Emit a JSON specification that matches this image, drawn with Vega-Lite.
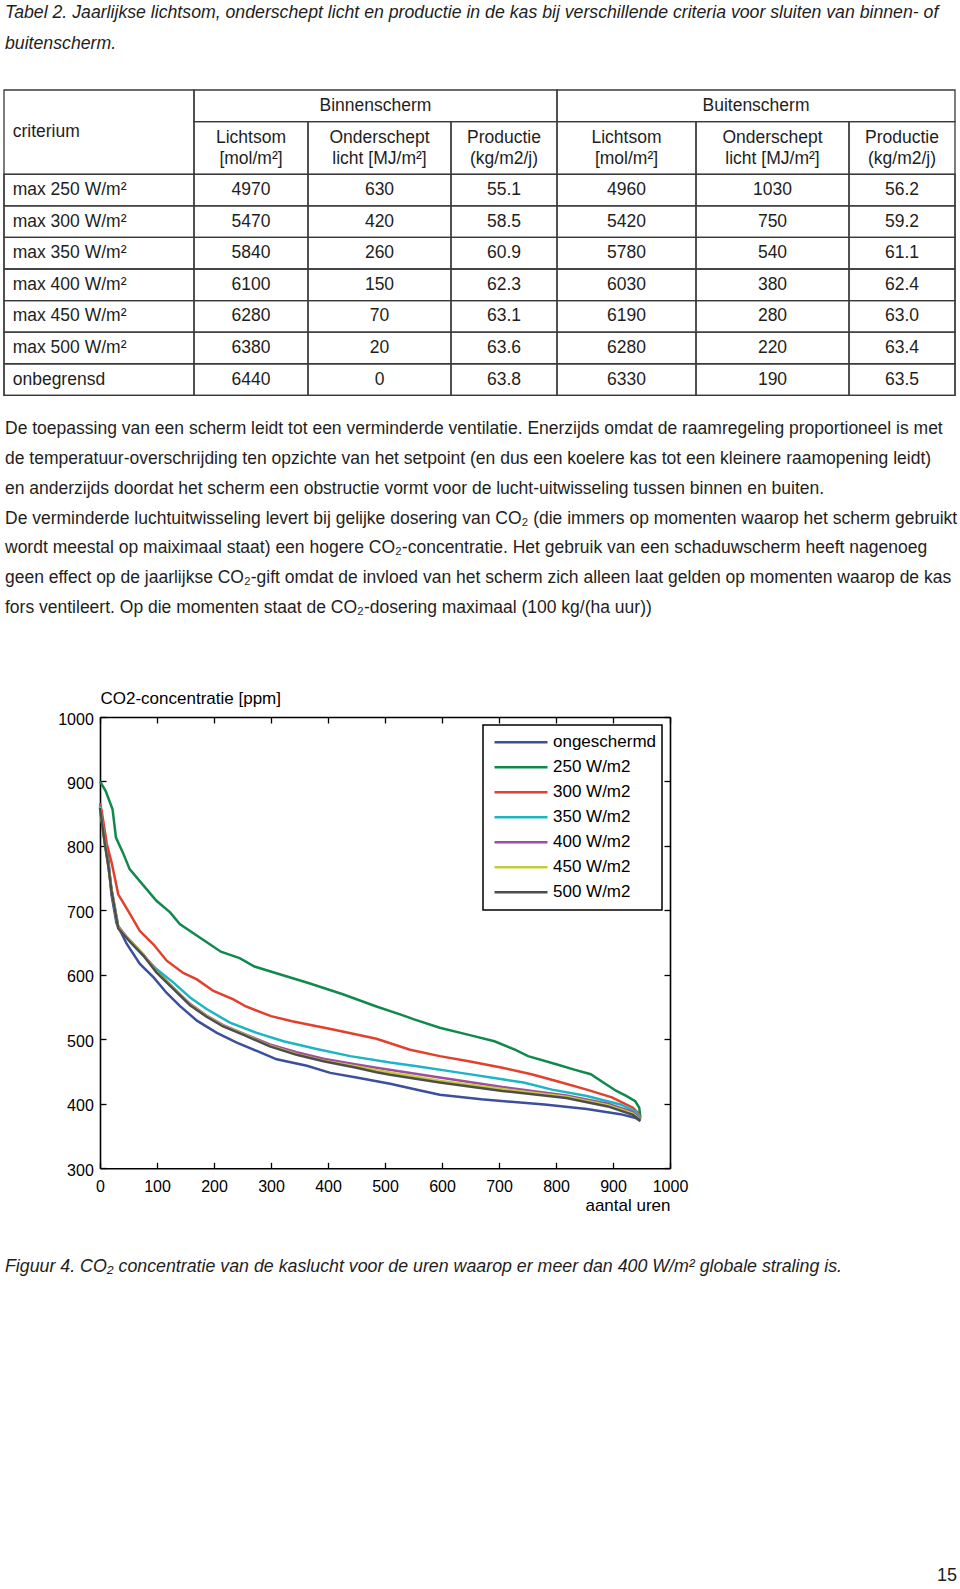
{
  "$schema": "https://vega.github.io/schema/vega-lite/v6.json",
  "padding": 0,
  "background": "white",
  "config": {"view": {"stroke": null}, "legend": {"strokeWidth": 1.5}},
  "spacing": 0,
  "bounds": "flush",
  "resolve": {"legend": {"color": "independent"}, "scale": {"color": "independent"}},
  "datasets": {
    "tbl": [
      {"r": 3, "crit": "max 250 W/m²", "bl": 4970, "bo": 630, "bp": 55.1, "ul": 4960, "uo": 1030, "up": 56.2},
      {"r": 4, "crit": "max 300 W/m²", "bl": 5470, "bo": 420, "bp": 58.5, "ul": 5420, "uo": 750, "up": 59.2},
      {"r": 5, "crit": "max 350 W/m²", "bl": 5840, "bo": 260, "bp": 60.9, "ul": 5780, "uo": 540, "up": 61.1},
      {"r": 6, "crit": "max 400 W/m²", "bl": 6100, "bo": 150, "bp": 62.3, "ul": 6030, "uo": 380, "up": 62.4},
      {"r": 7, "crit": "max 450 W/m²", "bl": 6280, "bo": 70, "bp": 63.1, "ul": 6190, "uo": 280, "up": 63.0},
      {"r": 8, "crit": "max 500 W/m²", "bl": 6380, "bo": 20, "bp": 63.6, "ul": 6280, "uo": 220, "up": 63.4},
      {"r": 9, "crit": "onbegrensd", "bl": 6440, "bo": 0, "bp": 63.8, "ul": 6330, "uo": 190, "up": 63.5}
    ],
    "hdr": [
      {"c": 2, "t": "Lichtsom\n[mol/m²]"},
      {"c": 3, "t": "Onderschept\nlicht [MJ/m²]"},
      {"c": 4, "t": "Productie\n(kg/m2/j)"},
      {"c": 5, "t": "Lichtsom\n[mol/m²]"},
      {"c": 6, "t": "Onderschept\nlicht [MJ/m²]"},
      {"c": 7, "t": "Productie\n(kg/m2/j)"}
    ],
    "cells": [
      {"c0": 0.5, "c1": 1.5, "r0": 0.5, "r1": 2.5},
      {"c0": 1.5, "c1": 4.5, "r0": 0.5, "r1": 1.5},
      {"c0": 4.5, "c1": 7.5, "r0": 0.5, "r1": 1.5},
      {"c0": 1.5, "c1": 2.5, "r0": 1.5, "r1": 2.5},
      {"c0": 2.5, "c1": 3.5, "r0": 1.5, "r1": 2.5},
      {"c0": 3.5, "c1": 4.5, "r0": 1.5, "r1": 2.5},
      {"c0": 4.5, "c1": 5.5, "r0": 1.5, "r1": 2.5},
      {"c0": 5.5, "c1": 6.5, "r0": 1.5, "r1": 2.5},
      {"c0": 6.5, "c1": 7.5, "r0": 1.5, "r1": 2.5},
      {"c0": 0.5, "c1": 7.5, "r0": 2.5, "r1": 3.5},
      {"c0": 0.5, "c1": 7.5, "r0": 3.5, "r1": 4.5},
      {"c0": 0.5, "c1": 7.5, "r0": 4.5, "r1": 5.5},
      {"c0": 0.5, "c1": 7.5, "r0": 5.5, "r1": 6.5},
      {"c0": 0.5, "c1": 7.5, "r0": 6.5, "r1": 7.5},
      {"c0": 0.5, "c1": 7.5, "r0": 7.5, "r1": 8.5},
      {"c0": 0.5, "c1": 7.5, "r0": 8.5, "r1": 9.5},
      {"c0": 0.5, "c1": 1.5, "r0": 2.5, "r1": 9.5},
      {"c0": 1.5, "c1": 2.5, "r0": 2.5, "r1": 9.5},
      {"c0": 2.5, "c1": 3.5, "r0": 2.5, "r1": 9.5},
      {"c0": 3.5, "c1": 4.5, "r0": 2.5, "r1": 9.5},
      {"c0": 4.5, "c1": 5.5, "r0": 2.5, "r1": 9.5},
      {"c0": 5.5, "c1": 6.5, "r0": 2.5, "r1": 9.5},
      {"c0": 6.5, "c1": 7.5, "r0": 2.5, "r1": 9.5}
    ],
    "co2": [
      {"s": "ongeschermd", "x": 0, "y": 862}, {"s": "ongeschermd", "x": 6, "y": 828}, {"s": "ongeschermd", "x": 15, "y": 777}, {"s": "ongeschermd", "x": 20, "y": 725}, {"s": "ongeschermd", "x": 29, "y": 680}, {"s": "ongeschermd", "x": 47, "y": 648}, {"s": "ongeschermd", "x": 70, "y": 617}, {"s": "ongeschermd", "x": 94, "y": 596}, {"s": "ongeschermd", "x": 117, "y": 572}, {"s": "ongeschermd", "x": 140, "y": 552}, {"s": "ongeschermd", "x": 170, "y": 529}, {"s": "ongeschermd", "x": 205, "y": 510}, {"s": "ongeschermd", "x": 240, "y": 495}, {"s": "ongeschermd", "x": 275, "y": 482}, {"s": "ongeschermd", "x": 310, "y": 469}, {"s": "ongeschermd", "x": 363, "y": 459}, {"s": "ongeschermd", "x": 404, "y": 448}, {"s": "ongeschermd", "x": 450, "y": 441}, {"s": "ongeschermd", "x": 509, "y": 431}, {"s": "ongeschermd", "x": 560, "y": 421}, {"s": "ongeschermd", "x": 596, "y": 414}, {"s": "ongeschermd", "x": 669, "y": 407}, {"s": "ongeschermd", "x": 780, "y": 399}, {"s": "ongeschermd", "x": 854, "y": 392}, {"s": "ongeschermd", "x": 913, "y": 384}, {"s": "ongeschermd", "x": 940, "y": 378}, {"s": "ongeschermd", "x": 948, "y": 373},
      {"s": "250 W/m2", "x": 0, "y": 900}, {"s": "250 W/m2", "x": 10, "y": 885}, {"s": "250 W/m2", "x": 22, "y": 857}, {"s": "250 W/m2", "x": 28, "y": 813}, {"s": "250 W/m2", "x": 40, "y": 790}, {"s": "250 W/m2", "x": 52, "y": 764}, {"s": "250 W/m2", "x": 75, "y": 740}, {"s": "250 W/m2", "x": 99, "y": 715}, {"s": "250 W/m2", "x": 123, "y": 697}, {"s": "250 W/m2", "x": 140, "y": 679}, {"s": "250 W/m2", "x": 158, "y": 668}, {"s": "250 W/m2", "x": 190, "y": 649}, {"s": "250 W/m2", "x": 212, "y": 636}, {"s": "250 W/m2", "x": 245, "y": 626}, {"s": "250 W/m2", "x": 271, "y": 613}, {"s": "250 W/m2", "x": 308, "y": 603}, {"s": "250 W/m2", "x": 367, "y": 587}, {"s": "250 W/m2", "x": 426, "y": 570}, {"s": "250 W/m2", "x": 485, "y": 551}, {"s": "250 W/m2", "x": 529, "y": 538}, {"s": "250 W/m2", "x": 551, "y": 531}, {"s": "250 W/m2", "x": 596, "y": 518}, {"s": "250 W/m2", "x": 647, "y": 507}, {"s": "250 W/m2", "x": 692, "y": 497}, {"s": "250 W/m2", "x": 728, "y": 484}, {"s": "250 W/m2", "x": 751, "y": 474}, {"s": "250 W/m2", "x": 802, "y": 461}, {"s": "250 W/m2", "x": 832, "y": 453}, {"s": "250 W/m2", "x": 861, "y": 446}, {"s": "250 W/m2", "x": 883, "y": 433}, {"s": "250 W/m2", "x": 906, "y": 420}, {"s": "250 W/m2", "x": 924, "y": 412}, {"s": "250 W/m2", "x": 939, "y": 404}, {"s": "250 W/m2", "x": 946, "y": 394}, {"s": "250 W/m2", "x": 948, "y": 379},
      {"s": "300 W/m2", "x": 0, "y": 866}, {"s": "300 W/m2", "x": 3, "y": 854}, {"s": "300 W/m2", "x": 12, "y": 803}, {"s": "300 W/m2", "x": 21, "y": 772}, {"s": "300 W/m2", "x": 32, "y": 725}, {"s": "300 W/m2", "x": 53, "y": 694}, {"s": "300 W/m2", "x": 70, "y": 668}, {"s": "300 W/m2", "x": 94, "y": 647}, {"s": "300 W/m2", "x": 117, "y": 622}, {"s": "300 W/m2", "x": 146, "y": 603}, {"s": "300 W/m2", "x": 170, "y": 593}, {"s": "300 W/m2", "x": 199, "y": 575}, {"s": "300 W/m2", "x": 234, "y": 562}, {"s": "300 W/m2", "x": 256, "y": 551}, {"s": "300 W/m2", "x": 300, "y": 536}, {"s": "300 W/m2", "x": 337, "y": 528}, {"s": "300 W/m2", "x": 411, "y": 515}, {"s": "300 W/m2", "x": 485, "y": 501}, {"s": "300 W/m2", "x": 544, "y": 484}, {"s": "300 W/m2", "x": 596, "y": 474}, {"s": "300 W/m2", "x": 647, "y": 466}, {"s": "300 W/m2", "x": 706, "y": 456}, {"s": "300 W/m2", "x": 757, "y": 446}, {"s": "300 W/m2", "x": 802, "y": 435}, {"s": "300 W/m2", "x": 854, "y": 422}, {"s": "300 W/m2", "x": 898, "y": 410}, {"s": "300 W/m2", "x": 935, "y": 394}, {"s": "300 W/m2", "x": 946, "y": 384}, {"s": "300 W/m2", "x": 948, "y": 376},
      {"s": "350 W/m2", "x": 0, "y": 862}, {"s": "350 W/m2", "x": 8, "y": 810}, {"s": "350 W/m2", "x": 15, "y": 770}, {"s": "350 W/m2", "x": 20, "y": 735}, {"s": "350 W/m2", "x": 32, "y": 676}, {"s": "350 W/m2", "x": 53, "y": 651}, {"s": "350 W/m2", "x": 76, "y": 630}, {"s": "350 W/m2", "x": 99, "y": 609}, {"s": "350 W/m2", "x": 129, "y": 588}, {"s": "350 W/m2", "x": 158, "y": 565}, {"s": "350 W/m2", "x": 187, "y": 547}, {"s": "350 W/m2", "x": 228, "y": 526}, {"s": "350 W/m2", "x": 275, "y": 510}, {"s": "350 W/m2", "x": 322, "y": 497}, {"s": "350 W/m2", "x": 380, "y": 485}, {"s": "350 W/m2", "x": 439, "y": 474}, {"s": "350 W/m2", "x": 509, "y": 464}, {"s": "350 W/m2", "x": 559, "y": 458}, {"s": "350 W/m2", "x": 633, "y": 448}, {"s": "350 W/m2", "x": 706, "y": 438}, {"s": "350 W/m2", "x": 743, "y": 433}, {"s": "350 W/m2", "x": 793, "y": 422}, {"s": "350 W/m2", "x": 854, "y": 412}, {"s": "350 W/m2", "x": 913, "y": 399}, {"s": "350 W/m2", "x": 940, "y": 388}, {"s": "350 W/m2", "x": 948, "y": 378},
      {"s": "400 W/m2", "x": 0, "y": 860}, {"s": "400 W/m2", "x": 8, "y": 808}, {"s": "400 W/m2", "x": 15, "y": 768}, {"s": "400 W/m2", "x": 20, "y": 733}, {"s": "400 W/m2", "x": 32, "y": 674}, {"s": "400 W/m2", "x": 53, "y": 653}, {"s": "400 W/m2", "x": 76, "y": 632}, {"s": "400 W/m2", "x": 99, "y": 606}, {"s": "400 W/m2", "x": 129, "y": 580}, {"s": "400 W/m2", "x": 158, "y": 555}, {"s": "400 W/m2", "x": 187, "y": 537}, {"s": "400 W/m2", "x": 216, "y": 522}, {"s": "400 W/m2", "x": 252, "y": 509}, {"s": "400 W/m2", "x": 298, "y": 492}, {"s": "400 W/m2", "x": 345, "y": 480}, {"s": "400 W/m2", "x": 392, "y": 470}, {"s": "400 W/m2", "x": 450, "y": 461}, {"s": "400 W/m2", "x": 485, "y": 456}, {"s": "400 W/m2", "x": 596, "y": 441}, {"s": "400 W/m2", "x": 706, "y": 426}, {"s": "400 W/m2", "x": 818, "y": 413}, {"s": "400 W/m2", "x": 891, "y": 400}, {"s": "400 W/m2", "x": 935, "y": 387}, {"s": "400 W/m2", "x": 948, "y": 376},
      {"s": "450 W/m2", "x": 0, "y": 860}, {"s": "450 W/m2", "x": 8, "y": 807}, {"s": "450 W/m2", "x": 15, "y": 767}, {"s": "450 W/m2", "x": 20, "y": 732}, {"s": "450 W/m2", "x": 32, "y": 673}, {"s": "450 W/m2", "x": 53, "y": 652}, {"s": "450 W/m2", "x": 76, "y": 631}, {"s": "450 W/m2", "x": 99, "y": 605}, {"s": "450 W/m2", "x": 129, "y": 579}, {"s": "450 W/m2", "x": 158, "y": 554}, {"s": "450 W/m2", "x": 187, "y": 536}, {"s": "450 W/m2", "x": 216, "y": 521}, {"s": "450 W/m2", "x": 252, "y": 508}, {"s": "450 W/m2", "x": 298, "y": 490}, {"s": "450 W/m2", "x": 345, "y": 477}, {"s": "450 W/m2", "x": 392, "y": 467}, {"s": "450 W/m2", "x": 450, "y": 458}, {"s": "450 W/m2", "x": 485, "y": 452}, {"s": "450 W/m2", "x": 596, "y": 436}, {"s": "450 W/m2", "x": 706, "y": 423}, {"s": "450 W/m2", "x": 818, "y": 411}, {"s": "450 W/m2", "x": 891, "y": 398}, {"s": "450 W/m2", "x": 935, "y": 385}, {"s": "450 W/m2", "x": 948, "y": 375},
      {"s": "500 W/m2", "x": 0, "y": 859}, {"s": "500 W/m2", "x": 8, "y": 806}, {"s": "500 W/m2", "x": 15, "y": 766}, {"s": "500 W/m2", "x": 20, "y": 731}, {"s": "500 W/m2", "x": 32, "y": 672}, {"s": "500 W/m2", "x": 53, "y": 651}, {"s": "500 W/m2", "x": 76, "y": 630}, {"s": "500 W/m2", "x": 99, "y": 604}, {"s": "500 W/m2", "x": 129, "y": 578}, {"s": "500 W/m2", "x": 158, "y": 553}, {"s": "500 W/m2", "x": 187, "y": 535}, {"s": "500 W/m2", "x": 216, "y": 520}, {"s": "500 W/m2", "x": 252, "y": 507}, {"s": "500 W/m2", "x": 298, "y": 489}, {"s": "500 W/m2", "x": 345, "y": 476}, {"s": "500 W/m2", "x": 392, "y": 466}, {"s": "500 W/m2", "x": 450, "y": 456}, {"s": "500 W/m2", "x": 485, "y": 449}, {"s": "500 W/m2", "x": 509, "y": 445}, {"s": "500 W/m2", "x": 596, "y": 433}, {"s": "500 W/m2", "x": 706, "y": 420}, {"s": "500 W/m2", "x": 818, "y": 409}, {"s": "500 W/m2", "x": 891, "y": 396}, {"s": "500 W/m2", "x": 935, "y": 383}, {"s": "500 W/m2", "x": 948, "y": 374}
    ]
  },
  "vconcat": [
    {
      "width": 960, "height": 90,
      "data": {"values": [
        {"line": 1, "t": "Tabel 2. Jaarlijkse lichtsom, onderschept licht en productie in de kas bij verschillende criteria voor sluiten van binnen- of"},
        {"line": 2, "t": "buitenscherm."}
      ]},
      "mark": {"type": "text", "align": "left", "baseline": "middle", "font": "Liberation Sans, Arial, sans-serif", "fontStyle": "italic", "fontSize": 17.7, "color": "#1e1e1e", "dx": 5},
      "encoding": {
        "x": {"datum": 0, "type": "quantitative", "scale": {"domain": [0, 1], "nice": false, "zero": false}, "axis": null},
        "y": {"field": "line", "type": "quantitative", "scale": {"domain": [1, 2], "range": [12.5, 43.5], "nice": false, "zero": false}, "axis": null},
        "text": {"field": "t"}
      }
    },
    {
      "width": 960, "height": 305.3,
      "layer": [
        {
          "data": {"name": "cells"},
          "mark": {"type": "rect", "filled": false, "stroke": "#3a3a3a", "strokeWidth": 1.3},
          "encoding": {
            "x": {"field": "c0", "type": "quantitative", "scale": {"domain": [0.5, 1.5, 2.5, 3.5, 4.5, 5.5, 6.5, 7.5], "range": [4, 194, 308, 451, 557, 696, 849, 955], "nice": false, "zero": false}, "axis": null},
            "x2": {"field": "c1"},
            "y": {"field": "r0", "type": "quantitative", "scale": {"domain": [0.5, 1.5, 2.5, 9.5], "range": [0, 31.7, 84.3, 305.3], "nice": false, "zero": false}, "axis": null},
            "y2": {"field": "r1"}
          }
        },
        {
          "data": {"name": "tbl"},
          "mark": {"type": "text", "align": "left", "baseline": "middle", "font": "Liberation Sans, Arial, sans-serif", "fontSize": 17.5, "color": "#1e1e1e", "dx": 8.7},
          "encoding": {
            "x": {"datum": 0.5, "type": "quantitative", "axis": null},
            "y": {"field": "r", "type": "quantitative", "axis": null},
            "text": {"field": "crit"}
          }
        },
        {
          "data": {"name": "tbl"},
          "mark": {"type": "text", "align": "center", "baseline": "middle", "font": "Liberation Sans, Arial, sans-serif", "fontSize": 17.5, "color": "#1e1e1e"},
          "encoding": {"x": {"datum": 2, "type": "quantitative", "axis": null}, "y": {"field": "r", "type": "quantitative", "axis": null}, "text": {"field": "bl", "type": "quantitative", "format": "d"}}
        },
        {
          "data": {"name": "tbl"},
          "mark": {"type": "text", "align": "center", "baseline": "middle", "font": "Liberation Sans, Arial, sans-serif", "fontSize": 17.5, "color": "#1e1e1e"},
          "encoding": {"x": {"datum": 3, "type": "quantitative", "axis": null}, "y": {"field": "r", "type": "quantitative", "axis": null}, "text": {"field": "bo", "type": "quantitative", "format": "d"}}
        },
        {
          "data": {"name": "tbl"},
          "mark": {"type": "text", "align": "center", "baseline": "middle", "font": "Liberation Sans, Arial, sans-serif", "fontSize": 17.5, "color": "#1e1e1e"},
          "encoding": {"x": {"datum": 4, "type": "quantitative", "axis": null}, "y": {"field": "r", "type": "quantitative", "axis": null}, "text": {"field": "bp", "type": "quantitative", "format": ".1f"}}
        },
        {
          "data": {"name": "tbl"},
          "mark": {"type": "text", "align": "center", "baseline": "middle", "font": "Liberation Sans, Arial, sans-serif", "fontSize": 17.5, "color": "#1e1e1e"},
          "encoding": {"x": {"datum": 5, "type": "quantitative", "axis": null}, "y": {"field": "r", "type": "quantitative", "axis": null}, "text": {"field": "ul", "type": "quantitative", "format": "d"}}
        },
        {
          "data": {"name": "tbl"},
          "mark": {"type": "text", "align": "center", "baseline": "middle", "font": "Liberation Sans, Arial, sans-serif", "fontSize": 17.5, "color": "#1e1e1e"},
          "encoding": {"x": {"datum": 6, "type": "quantitative", "axis": null}, "y": {"field": "r", "type": "quantitative", "axis": null}, "text": {"field": "uo", "type": "quantitative", "format": "d"}}
        },
        {
          "data": {"name": "tbl"},
          "mark": {"type": "text", "align": "center", "baseline": "middle", "font": "Liberation Sans, Arial, sans-serif", "fontSize": 17.5, "color": "#1e1e1e"},
          "encoding": {"x": {"datum": 7, "type": "quantitative", "axis": null}, "y": {"field": "r", "type": "quantitative", "axis": null}, "text": {"field": "up", "type": "quantitative", "format": ".1f"}}
        },
        {
          "data": {"name": "hdr"},
          "mark": {"type": "text", "align": "center", "baseline": "middle", "lineBreak": "\n", "lineHeight": 21, "font": "Liberation Sans, Arial, sans-serif", "fontSize": 17.5, "color": "#1e1e1e", "dy": -10.5},
          "encoding": {"x": {"field": "c", "type": "quantitative", "axis": null}, "y": {"datum": 2, "type": "quantitative", "axis": null}, "text": {"field": "t"}}
        },
        {
          "data": {"values": [{"t": "criterium"}]},
          "mark": {"type": "text", "align": "left", "baseline": "middle", "font": "Liberation Sans, Arial, sans-serif", "fontSize": 17.5, "color": "#1e1e1e", "dx": 8.7, "dy": 10.5},
          "encoding": {"x": {"datum": 0.5, "type": "quantitative", "axis": null}, "y": {"datum": 1.5, "type": "quantitative", "axis": null}, "text": {"field": "t"}}
        },
        {
          "data": {"values": [{"c": 3, "t": "Binnenscherm"}]},
          "mark": {"type": "text", "align": "center", "baseline": "middle", "font": "Liberation Sans, Arial, sans-serif", "fontSize": 17.5, "color": "#1e1e1e", "dx": -4},
          "encoding": {"x": {"field": "c", "type": "quantitative", "axis": null}, "y": {"datum": 1, "type": "quantitative", "axis": null}, "text": {"field": "t"}}
        },
        {
          "data": {"values": [{"c": 6, "t": "Buitenscherm"}]},
          "mark": {"type": "text", "align": "center", "baseline": "middle", "font": "Liberation Sans, Arial, sans-serif", "fontSize": 17.5, "color": "#1e1e1e", "dx": -16.5},
          "encoding": {"x": {"field": "c", "type": "quantitative", "axis": null}, "y": {"datum": 1, "type": "quantitative", "axis": null}, "text": {"field": "t"}}
        }
      ]
    },
    {
      "width": 960, "height": 320.7,
      "data": {"values": [
        {"line": 1, "t": "De toepassing van een scherm leidt tot een verminderde ventilatie. Enerzijds omdat de raamregeling proportioneel is met"},
        {"line": 2, "t": "de temperatuur-overschrijding ten opzichte van het setpoint (en dus een koelere kas tot een kleinere raamopening leidt)"},
        {"line": 3, "t": "en anderzijds doordat het scherm een obstructie vormt voor de lucht-uitwisseling tussen binnen en buiten."},
        {"line": 4, "t": "De verminderde luchtuitwisseling levert bij gelijke dosering van CO₂ (die immers op momenten waarop het scherm gebruikt"},
        {"line": 5, "t": "wordt meestal op maiximaal staat) een hogere CO₂-concentratie. Het gebruik van een schaduwscherm heeft nagenoeg"},
        {"line": 6, "t": "geen effect op de jaarlijkse CO₂-gift omdat de invloed van het scherm zich alleen laat gelden op momenten waarop de kas"},
        {"line": 7, "t": "fors ventileert. Op die momenten staat de CO₂-dosering maximaal (100 kg/(ha uur))"}
      ]},
      "mark": {"type": "text", "align": "left", "baseline": "middle", "font": "Liberation Sans, Arial, sans-serif", "fontSize": 17.5, "color": "#1e1e1e", "dx": 5},
      "encoding": {
        "x": {"datum": 0, "type": "quantitative", "scale": {"domain": [0, 1], "nice": false, "zero": false}, "axis": null},
        "y": {"field": "line", "type": "quantitative", "scale": {"domain": [1, 7], "range": [33, 212], "nice": false, "zero": false}, "axis": null},
        "text": {"field": "t"}
      }
    },
    {
      "width": 670, "height": 451.3,
      "data": {"name": "co2"},
      "layer": [
        {
          "mark": {"type": "line", "strokeWidth": 2.5},
          "encoding": {
            "x": {"field": "x", "type": "quantitative", "scale": {"domain": [0, 1000], "range": [100, 670], "nice": false, "zero": false},
              "axis": {"orient": "bottom", "values": [0, 100, 200, 300, 400, 500, 600, 700, 800, 900, 1000], "format": "d", "grid": false, "domainColor": "black", "domainWidth": 1.6, "tickSize": -6, "tickColor": "black", "tickWidth": 1.3, "labelFont": "Liberation Sans", "labelFontSize": 16, "labelColor": "black", "labelPadding": 16.5, "labelFlush": false, "labelOverlap": false, "title": "aantal uren", "titleFont": "Liberation Sans", "titleFontSize": 17, "titleFontWeight": "normal", "titleColor": "black", "titleAnchor": "end", "titleY": 37, "titleBaseline": "middle"}},
            "y": {"field": "y", "type": "quantitative", "scale": {"domain": [300, 1000], "nice": false, "zero": false},
              "axis": {"orient": "left", "offset": -100, "values": [300, 400, 500, 600, 700, 800, 900, 1000], "format": "d", "grid": false, "domainColor": "black", "domainWidth": 1.6, "tickSize": -6, "tickColor": "black", "tickWidth": 1.3, "labelFont": "Liberation Sans", "labelFontSize": 16, "labelColor": "black", "labelPadding": 12.7, "labelOffset": 2, "labelFlush": false, "labelOverlap": false, "title": "CO2-concentratie [ppm]", "titleAngle": 0, "titleX": 0, "titleY": -19, "titleAlign": "left", "titleBaseline": "middle", "titleFont": "Liberation Sans", "titleFontSize": 17, "titleFontWeight": "normal", "titleColor": "black"}},
            "color": {"field": "s", "type": "nominal",
              "scale": {"domain": ["ongeschermd", "250 W/m2", "300 W/m2", "350 W/m2", "400 W/m2", "450 W/m2", "500 W/m2"], "range": ["#3b4f9d", "#0f8a4c", "#e2402c", "#1cb5c4", "#9b4f9c", "#c6cb3b", "#4d4d4d"]},
              "legend": {"orient": "top-right", "offset": 8, "title": null, "fillColor": "white", "strokeColor": "black", "padding": 5, "symbolType": "stroke", "symbolSize": 2809, "symbolStrokeWidth": 2.5, "clipHeight": 24.4, "rowPadding": 0, "labelFont": "Liberation Sans", "labelFontSize": 17, "labelColor": "black", "labelOffset": 4, "symbolOffset": 5}}
          }
        },
        {
          "mark": {"type": "point", "opacity": 0},
          "encoding": {
            "x": {"field": "x", "type": "quantitative", "scale": {"domain": [0, 1000], "range": [100, 670], "nice": false, "zero": false},
              "axis": {"orient": "top", "values": [0, 100, 200, 300, 400, 500, 600, 700, 800, 900, 1000], "labels": false, "title": null, "grid": false, "domainColor": "black", "domainWidth": 1.6, "tickSize": -6, "tickColor": "black", "tickWidth": 1.3}},
            "y": {"field": "y", "type": "quantitative", "scale": {"domain": [300, 1000], "nice": false, "zero": false},
              "axis": {"orient": "right", "values": [300, 400, 500, 600, 700, 800, 900, 1000], "labels": false, "title": null, "grid": false, "domainColor": "black", "domainWidth": 1.6, "tickSize": -6, "tickColor": "black", "tickWidth": 1.3}}
          }
        }
      ],
      "resolve": {"axis": {"x": "independent", "y": "independent"}}
    },
    {
      "width": 960, "height": 195.4,
      "data": {"values": [{"t": "Figuur 4. CO₂ concentratie van de kaslucht voor de uren waarop er meer dan 400 W/m² globale straling is."}]},
      "mark": {"type": "text", "align": "left", "baseline": "middle", "font": "Liberation Sans, Arial, sans-serif", "fontStyle": "italic", "fontSize": 17.8, "color": "#1e1e1e", "dx": 5},
      "encoding": {
        "x": {"datum": 0, "type": "quantitative", "scale": {"domain": [0, 1], "nice": false, "zero": false}, "axis": null},
        "text": {"field": "t"}
      }
    },
    {
      "width": 960, "height": 226.3,
      "data": {"values": [{"t": "15"}]},
      "mark": {"type": "text", "align": "right", "baseline": "bottom", "font": "Liberation Sans, Arial, sans-serif", "fontSize": 18, "color": "#1e1e1e", "dx": -3, "dy": -6},
      "encoding": {
        "x": {"datum": 1, "type": "quantitative", "scale": {"domain": [0, 1], "nice": false, "zero": false}, "axis": null},
        "y": {"datum": 0, "type": "quantitative", "scale": {"domain": [0, 1], "nice": false, "zero": false}, "axis": null},
        "text": {"field": "t"}
      }
    }
  ]
}
